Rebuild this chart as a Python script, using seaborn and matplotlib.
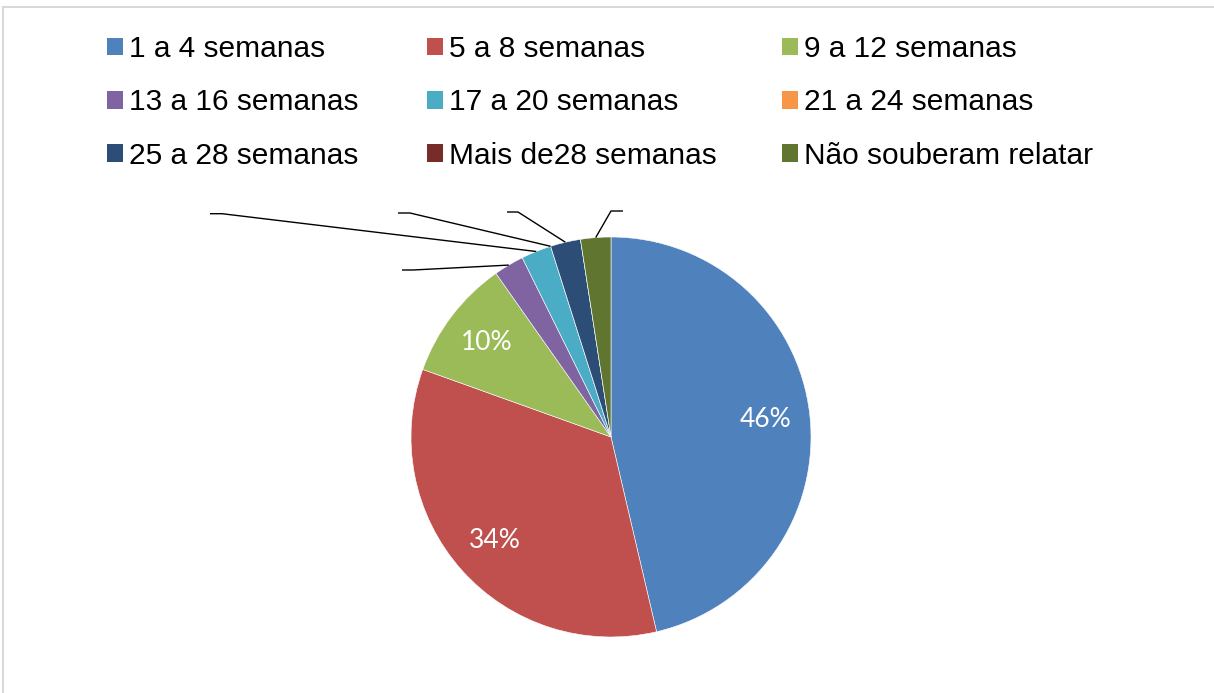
import matplotlib
matplotlib.use('Agg')
import matplotlib.pyplot as plt
from matplotlib.patches import Patch, Rectangle
import numpy as np
import seaborn as sns

categories = ["1 a 4 semanas", "5 a 8 semanas", "9 a 12 semanas",
              "13 a 16 semanas", "17 a 20 semanas", "21 a 24 semanas",
              "25 a 28 semanas", "Mais de28 semanas", "Não souberam relatar"]
counts = [19, 14, 4, 1, 1, 0, 1, 0, 1]
colors_hex = ["#4F81BD", "#C0504D", "#9BBB59", "#8064A2", "#4BACC6",
              "#F79646", "#2C4D75", "#772C2A", "#5F7530"]

sns.set_theme(style='white')
plt.rcParams['font.family'] = ['Liberation Sans', 'DejaVu Sans']
plt.rcParams['text.color'] = 'black'

W, H = 1214, 693
fig = plt.figure(figsize=(W / 100, H / 100), dpi=100)
fig.patch.set_facecolor('white')
ax = fig.add_axes([0, 0, 1, 1])

palette = sns.color_palette(colors_hex)
cx, cy, R = 611, H - 437, 200


def pct(p):
    return f"{p:.0f}%" if p >= 5 else ""


wedges, texts, autotexts = ax.pie(
    counts, colors=palette, startangle=90, counterclock=False,
    center=(cx, cy), radius=R, autopct=pct, pctdistance=0.78,
    wedgeprops=dict(edgecolor='white', linewidth=0.4),
    textprops=dict(color='white', family=['Lato', 'DejaVu Sans'], fontsize=19),
    frame=True)
ax.set_xlim(0, W)
ax.set_ylim(0, H)
ax.set_aspect('equal', adjustable='box')
ax.axis('off')

# leader lines (labels in reference are invisible)
leader = {3: [(413, 270), (402, 270)],
          4: [(222, 213.7), (210, 213.7)],
          5: [(410, 213), (398, 213)],
          6: [(518, 212), (507, 212)],
          8: [(611, 211), (623, 211)]}
for i, pts in leader.items():
    w = wedges[i]
    th = np.deg2rad((w.theta1 + w.theta2) / 2)
    sx = w.center[0] + w.r * np.cos(th)
    sy = w.center[1] + w.r * np.sin(th)
    xs = [sx] + [p[0] for p in pts]
    ys = [sy] + [H - p[1] for p in pts]
    ax.plot(xs, ys, color='black', lw=1.0, solid_capstyle='butt', clip_on=False)

# legend in three columns
handles = [Patch(facecolor=c, edgecolor='none') for c in palette]
col_x = [107, 427, 782]
for j in range(3):
    idx = [j, j + 3, j + 6]
    leg = fig.legend([handles[i] for i in idx], [categories[i] for i in idx],
                     loc='upper left', bbox_to_anchor=(col_x[j] / W, 1 - 35 / H),
                     bbox_transform=fig.transFigure, frameon=False, fontsize=21.5,
                     handlelength=0.53, handleheight=0.53, handletextpad=0.2,
                     labelspacing=0.85, borderpad=0, borderaxespad=0)
    for t in leg.get_texts():
        t.set_color('black')

# chart area border
fig.patches.append(Rectangle((2.5 / W, -0.1), 1.1, 1 - 7 / H + 0.1, fill=False,
                             edgecolor='#D9D9D9', lw=1.5, transform=fig.transFigure))

fig.savefig('out.png', dpi=100, facecolor='white')
